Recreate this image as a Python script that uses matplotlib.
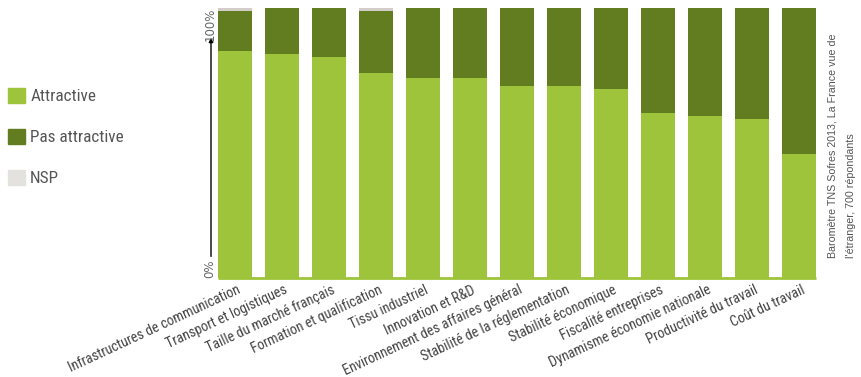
import matplotlib
matplotlib.use('Agg')
import matplotlib.pyplot as plt
import matplotlib.transforms as mtransforms
from matplotlib import font_manager as fm
from matplotlib.patches import Patch
import numpy as np

categories = [
    'Infrastructures de communication', 'Transport et logistiques',
    'Taille du marché français', 'Formation et qualification',
    'Tissu industriel', 'Innovation et R&D',
    'Environnement des affaires général', 'Stabilité de la réglementation',
    'Stabilité économique', 'Fiscalité entreprises',
    'Dynamisme économie nationale', 'Productivité du travail', 'Coût du travail',
]
attractive = [84, 83, 82, 76, 74, 74, 71, 71, 70, 61, 60, 59, 46]
nsp = [1, 0, 0, 1, 0, 0, 0, 0, 0, 0, 0, 0, 0]
pas_attractive = [100 - a - n for a, n in zip(attractive, nsp)]

c_attr = '#9dc43a'
c_pas = '#617d20'
c_nsp = '#d2cdc8'
c_nsp_leg = '#e4e2de'

# pick a condensed face if one is there
installed = set(f.name for f in fm.fontManager.ttflist)
narrow = [f for f in ['Roboto Condensed', 'Archivo Narrow', 'Asap Condensed',
                      'Liberation Sans Narrow'] if f in installed] + ['Liberation Sans', 'DejaVu Sans']
narrow = narrow[:1] + ['DejaVu Sans']

fig = plt.figure(figsize=(8.62, 3.77), dpi=100)
ax = fig.add_axes([211 / 862, 99 / 377, 609 / 862, 270 / 377])

x = np.arange(len(categories))
w = 0.72
ax.bar(x, attractive, w, color=c_attr)
ax.bar(x, pas_attractive, w, bottom=attractive, color=c_pas)
ax.bar(x, nsp, w, bottom=np.array(attractive) + np.array(pas_attractive), color=c_nsp)

# baseline
ax.hlines(0, x[0] - w / 2, x[-1] + w / 2, color=c_attr, lw=2, clip_on=False)

ax.set_xlim(-0.51, 12.447)
ax.set_ylim(0, 100)
for s in ax.spines.values():
    s.set_visible(False)
ax.set_yticks([])

ax.set_xticks(x)
ax.set_xticklabels(categories, rotation=25, ha='right', va='top',
                   rotation_mode='anchor', fontsize=10.2, color='#444444',
                   family=narrow)
ax.tick_params(axis='x', length=0, pad=0)
offset = mtransforms.ScaledTranslation(2 / 100, -5 / 100, fig.dpi_scale_trans)
for lab in ax.get_xticklabels():
    lab.set_transform(lab.get_transform() + offset)

# y axis arrow and labels
yt = ax.get_yaxis_transform()
ax.annotate('', xy=(0, 89), xytext=(0, 8), xycoords=yt, textcoords=yt,
            arrowprops=dict(arrowstyle='-|>', color='black', lw=1,
                            mutation_scale=6, shrinkA=0, shrinkB=0))
ax.text(-0.002, 100, '100%', transform=yt, rotation=90, ha='center', va='top',
        fontsize=8.5, color='#666666')
ax.text(-0.002, 0, '0%', transform=yt, rotation=90, ha='center', va='bottom',
        fontsize=8.5, color='#666666')

# legend
handles = [Patch(color=c_attr), Patch(color=c_pas), Patch(color=c_nsp_leg)]
fig.legend(handles, ['Attractive', 'Pas attractive', 'NSP'],
           loc='upper left', bbox_to_anchor=(8 / 862, 1 - 88 / 377),
           frameon=False, handlelength=1.0, handleheight=1.0,
           handletextpad=0.3, labelspacing=1.42, borderpad=0, borderaxespad=0,
           prop=dict(family=narrow, size=12.3), labelcolor='#555555')

# source
src = ['Baromètre TNS Sofres 2013, La France vue de', "l'étranger, 700 répondants"]
for xp, line in zip([833, 851], src):
    fig.text(xp / 862, 1 - 258 / 377, line,
             rotation=90, ha='center', va='bottom', fontsize=7.7, color='#555555',
             family=['Liberation Sans', 'DejaVu Sans'])

fig.savefig('out.png', dpi=100)
